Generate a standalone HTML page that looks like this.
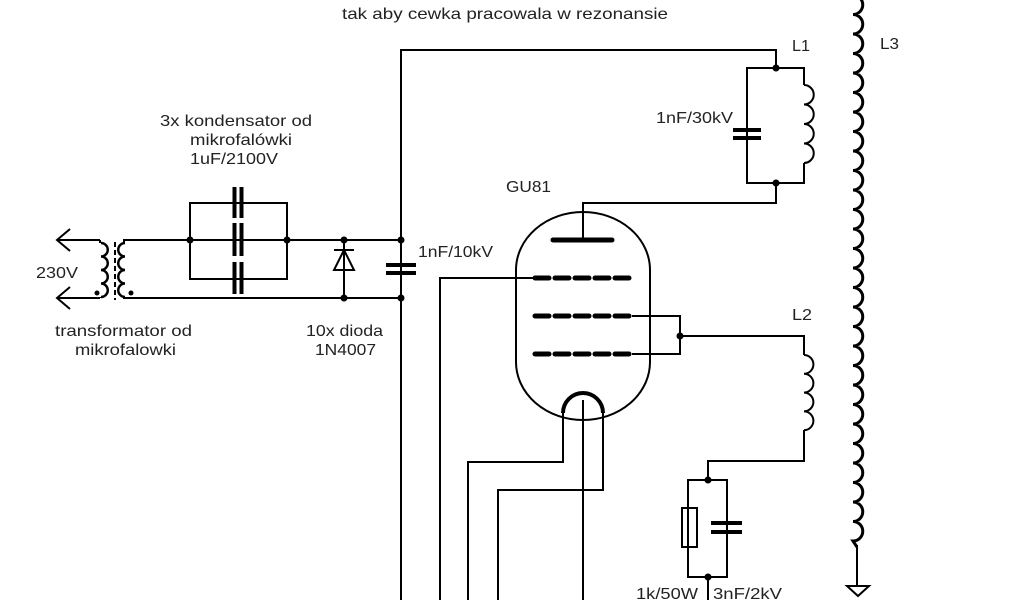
<!DOCTYPE html>
<html><head><meta charset="utf-8"><style>
html,body{margin:0;padding:0;background:#fff;width:1024px;height:600px;overflow:hidden}
svg{display:block}
text{font-family:"Liberation Sans",sans-serif;font-size:16px;fill:#222}
</style></head><body>
<svg width="1024" height="600" viewBox="0 0 1024 600" xmlns="http://www.w3.org/2000/svg">
<g fill="none" stroke="#000" stroke-width="2">
<path d="M401 600V50H776V68"/>
<path d="M776 68H747V183H804V163"/>
<path d="M776 68H804V85"/>
<path d="M804 85a9.75 9.75 0 0 1 0 19.5a9.75 9.75 0 0 1 0 19.5a9.75 9.75 0 0 1 0 19.5a9.75 9.75 0 0 1 0 19.5"/>
<path d="M776 183V203H583V240"/>
<path d="M733 130H761M733 138H761" stroke-width="4"/>
<path d="M57 240H100M57 298H100"/>
<path d="M70 229L57 240L70 251M70 287L57 298L70 309"/>
<path d="M100 240V243M100 297V298"/>
<path d="M101 243a6.75 6.75 0 0 1 0 13.5a6.75 6.75 0 0 1 0 13.5a6.75 6.75 0 0 1 0 13.5a6.75 6.75 0 0 1 0 13.5" stroke-width="2.5"/>
<path d="M115 242V300" stroke-dasharray="5 3"/>
<path d="M125 243a6.75 6.75 0 0 0 0 13.5a6.75 6.75 0 0 0 0 13.5a6.75 6.75 0 0 0 0 13.5a6.75 6.75 0 0 0 0 13.5" stroke-width="2.5"/>
<path d="M124 243V240H401M124 297V298H401"/>
<path d="M190 203H287V279H190Z"/>
<path d="M234.5 187V218M241.5 187V218M234.5 223V256M241.5 223V256M234.5 262V294M241.5 262V294" stroke-width="4"/>
<path d="M344 240V298"/>
<path d="M334 250H354M344 250L334 270H354Z"/>
<path d="M386 265H416M386 273H416" stroke-width="4"/>
<path d="M516 270A67 58 0 0 1 650 270V362A67 58 0 0 1 516 362Z"/>
<path d="M553 240H612" stroke-width="5" stroke-linecap="round"/>
<path d="M535 278H632M535 316H632M535 354H632" stroke-width="5" stroke-linecap="round" stroke-dasharray="14 6"/>
<path d="M535 278H440V600"/>
<path d="M632 316H680V354H632M680 336H804V355"/>
<path d="M804 355a9.4 9.4 0 0 1 0 18.8a9.4 9.4 0 0 1 0 18.8a9.4 9.4 0 0 1 0 18.8a9.4 9.4 0 0 1 0 18.8"/>
<path d="M804 430V461H708V480H688V577H727V480H708M708 577V600"/>
<rect x="682" y="508" width="15" height="39"/>
<path d="M711 523H742M711 532H742" stroke-width="4"/>
<path d="M563 413A20 20 0 0 1 603 413" stroke-width="4"/>
<path d="M563 413V462H468V600M603 413V490H498V600M583 400V600"/>
<path id="l3" stroke-width="3" d=""/>
<path d="M857 545V586M847 586H869L858 596Z"/>
</g>
<g fill="#000">
<circle cx="776" cy="68" r="3.5"/><circle cx="776" cy="183" r="3.5"/>
<circle cx="190" cy="240" r="3.5"/><circle cx="287" cy="240" r="3.5"/>
<circle cx="344" cy="240" r="3.5"/><circle cx="344" cy="298" r="3.5"/>
<circle cx="401" cy="240" r="3.5"/><circle cx="401" cy="298" r="3.5"/>
<circle cx="97" cy="293" r="2.5"/><circle cx="131" cy="293" r="2.5"/>
<circle cx="680" cy="336" r="3.5"/>
<circle cx="708" cy="480" r="3.5"/><circle cx="708" cy="577" r="3.5"/>
</g>
<g lengthAdjust="spacingAndGlyphs">
<text x="342" y="19" textLength="326" lengthAdjust="spacingAndGlyphs">tak aby cewka pracowala w rezonansie</text>
<text x="792" y="51" textLength="18" lengthAdjust="spacingAndGlyphs">L1</text>
<text x="880" y="49" textLength="19" lengthAdjust="spacingAndGlyphs">L3</text>
<text x="656" y="123" textLength="77" lengthAdjust="spacingAndGlyphs">1nF/30kV</text>
<text x="506" y="192" textLength="45" lengthAdjust="spacingAndGlyphs">GU81</text>
<text x="418" y="257" textLength="75" lengthAdjust="spacingAndGlyphs">1nF/10kV</text>
<text x="792" y="320" textLength="20" lengthAdjust="spacingAndGlyphs">L2</text>
<text x="160" y="126" textLength="152" lengthAdjust="spacingAndGlyphs">3x kondensator od</text>
<text x="190" y="145" textLength="102" lengthAdjust="spacingAndGlyphs">mikrofalówki</text>
<text x="190" y="164" textLength="88" lengthAdjust="spacingAndGlyphs">1uF/2100V</text>
<text x="36" y="278" textLength="42" lengthAdjust="spacingAndGlyphs">230V</text>
<text x="55" y="336" textLength="137" lengthAdjust="spacingAndGlyphs">transformator od</text>
<text x="75" y="355" textLength="101" lengthAdjust="spacingAndGlyphs">mikrofalowki</text>
<text x="306" y="336" textLength="77" lengthAdjust="spacingAndGlyphs">10x dioda</text>
<text x="315" y="355" textLength="61" lengthAdjust="spacingAndGlyphs">1N4007</text>
<text x="636" y="599" textLength="62" lengthAdjust="spacingAndGlyphs">1k/50W</text>
<text x="713" y="599" textLength="69" lengthAdjust="spacingAndGlyphs">3nF/2kV</text>
</g>
</svg>
<script>
var d="M853 -5";for(var i=0;i<28;i++){d+="a9.75 9.75 0 0 1 0 19.5";}
document.getElementById("l3").setAttribute("d",d+"L857 547");
</script>
</body></html>
